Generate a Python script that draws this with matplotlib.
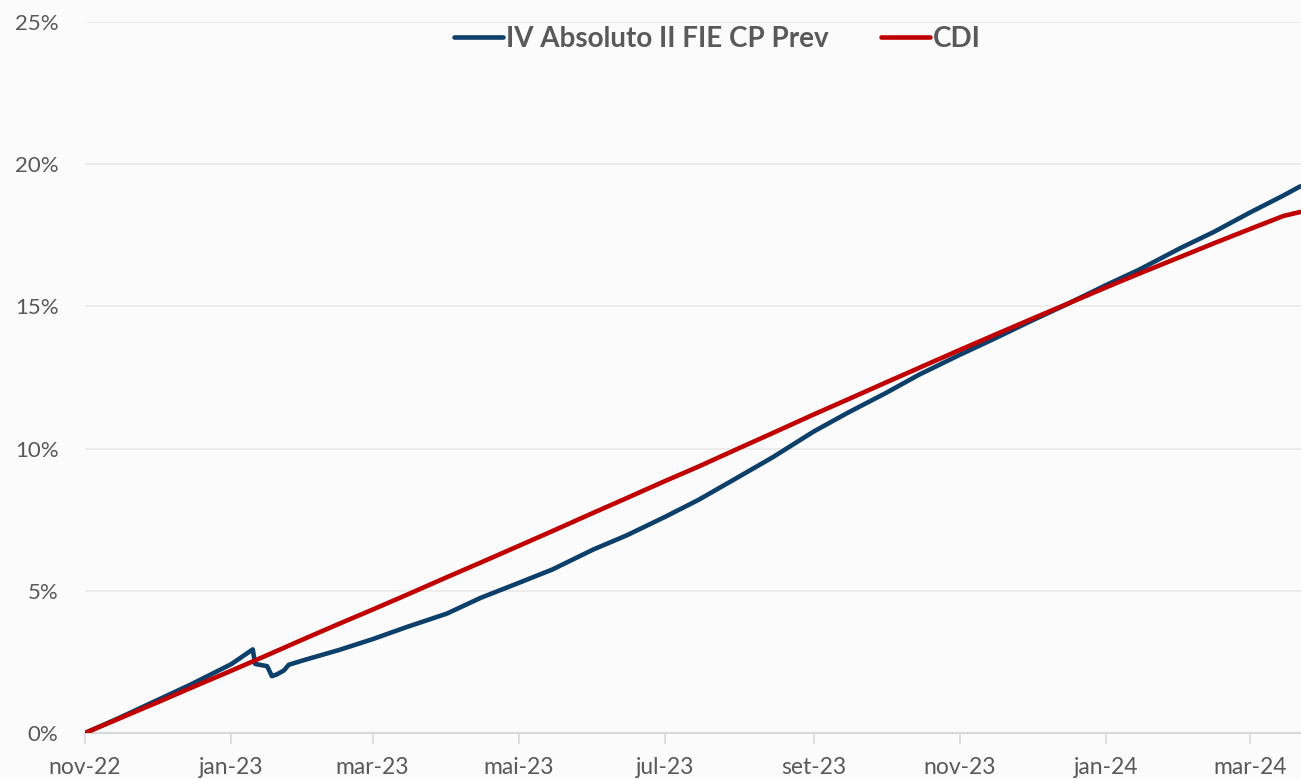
import numpy as np
import pandas as pd
import matplotlib
matplotlib.use("Agg")
import matplotlib.pyplot as plt
from matplotlib.ticker import PercentFormatter

# data (cumulative return, %)
fund_dates = ["2022-11-01", "2022-11-15", "2022-12-01", "2022-12-15", "2023-01-01",
              "2023-01-10", "2023-01-11", "2023-01-16", "2023-01-18", "2023-01-20",
              "2023-01-23", "2023-01-25", "2023-02-01", "2023-02-15", "2023-03-01",
              "2023-03-15", "2023-04-01", "2023-04-15", "2023-05-01", "2023-05-15",
              "2023-06-01", "2023-06-15", "2023-07-01", "2023-07-15", "2023-08-01",
              "2023-08-15", "2023-09-01", "2023-09-15", "2023-10-01", "2023-10-15",
              "2023-11-01", "2023-11-15", "2023-12-01", "2023-12-15", "2024-01-01",
              "2024-01-15", "2024-02-01", "2024-02-15", "2024-03-01", "2024-03-15",
              "2024-03-22"]
fund_values = [0.00, 0.52, 1.15, 1.70, 2.42,
               2.94, 2.43, 2.35, 2.00, 2.06,
               2.20, 2.40, 2.58, 2.92, 3.30,
               3.72, 4.20, 4.75, 5.28, 5.75,
               6.45, 6.95, 7.60, 8.20, 9.02,
               9.70, 10.60, 11.25, 11.95, 12.60,
               13.30, 13.85, 14.50, 15.05, 15.75,
               16.30, 17.05, 17.62, 18.30, 18.90,
               19.22]

cdi_dates = ["2022-11-01", "2022-11-15", "2022-12-01", "2022-12-15", "2023-01-01",
             "2023-01-15", "2023-02-01", "2023-02-15", "2023-03-01", "2023-03-15",
             "2023-04-01", "2023-04-15", "2023-05-01", "2023-05-15", "2023-06-01",
             "2023-06-15", "2023-07-01", "2023-07-15", "2023-08-01", "2023-08-15",
             "2023-09-01", "2023-09-15", "2023-10-01", "2023-10-15", "2023-11-01",
             "2023-11-15", "2023-12-01", "2023-12-15", "2024-01-01", "2024-01-15",
             "2024-02-01", "2024-02-15", "2024-03-01", "2024-03-15", "2024-03-22"]
cdi_values = [0.00, 0.50, 1.07, 1.58, 2.19,
              2.70, 3.33, 3.84, 4.34, 4.85,
              5.48, 5.99, 6.58, 7.10, 7.74,
              8.26, 8.86, 9.37, 10.02, 10.55,
              11.20, 11.72, 12.32, 12.84, 13.47,
              13.98, 14.56, 15.06, 15.67, 16.16,
              16.74, 17.22, 17.72, 18.18, 18.32]

tick_dates = ["2022-11-01", "2023-01-01", "2023-03-01", "2023-05-01", "2023-07-01",
              "2023-09-01", "2023-11-01", "2024-01-01", "2024-03-01"]
tick_labels = ["nov-22", "jan-23", "mar-23", "mai-23", "jul-23",
               "set-23", "nov-23", "jan-24", "mar-24"]

fund_name = "IV Absoluto II FIE CP Prev"
cdi_name = "CDI"

plt.rcParams['font.family'] = ['Lato', 'DejaVu Sans']
grey_txt = '#595959'

fig = plt.figure(figsize=(13.01, 7.79), dpi=100, facecolor='#fbfbfb')
ax = fig.add_axes([0.0653, 0.059, 0.9347, 0.9128])
ax.set_facecolor('#fbfbfb')

ax.plot(pd.to_datetime(fund_dates), fund_values, color='#0d3f6b', lw=3.3,
        label=fund_name, solid_capstyle='round', solid_joinstyle='round', zorder=3)
ax.plot(pd.to_datetime(cdi_dates), cdi_values, color='#c00000', lw=3.3,
        label=cdi_name, solid_capstyle='round', solid_joinstyle='round', zorder=3)

start = pd.Timestamp("2022-11-01")
ax.set_xlim(start, start + pd.Timedelta(days=507.3))
ax.set_ylim(0, 25)
ax.set_yticks(np.arange(0, 26, 5))
ax.yaxis.set_major_formatter(PercentFormatter(decimals=0))
ax.set_xticks(pd.to_datetime(tick_dates))
ax.set_xticklabels(tick_labels)

ax.grid(axis='y', color='#ebebeb', lw=1.3)
ax.set_axisbelow(True)
for s in ['top', 'right', 'left']:
    ax.spines[s].set_visible(False)
ax.spines['bottom'].set_color('#d9d9d9')
ax.spines['bottom'].set_linewidth(1.5)

ax.tick_params(axis='y', length=0, pad=19, labelsize=16, labelcolor=grey_txt)
ax.tick_params(axis='x', length=8, width=1.2, color='#d9d9d9', pad=9,
               labelsize=16.5, labelcolor=grey_txt)

leg = ax.legend(loc='center', bbox_to_anchor=(0.52, 0.976), ncol=2, frameon=False,
                handlelength=1.75, handletextpad=0.1, columnspacing=1.9,
                prop={'weight': 'bold', 'size': 20})
for t in leg.get_texts():
    t.set_color(grey_txt)

fig.savefig("out.png", dpi=100, facecolor=fig.get_facecolor())
